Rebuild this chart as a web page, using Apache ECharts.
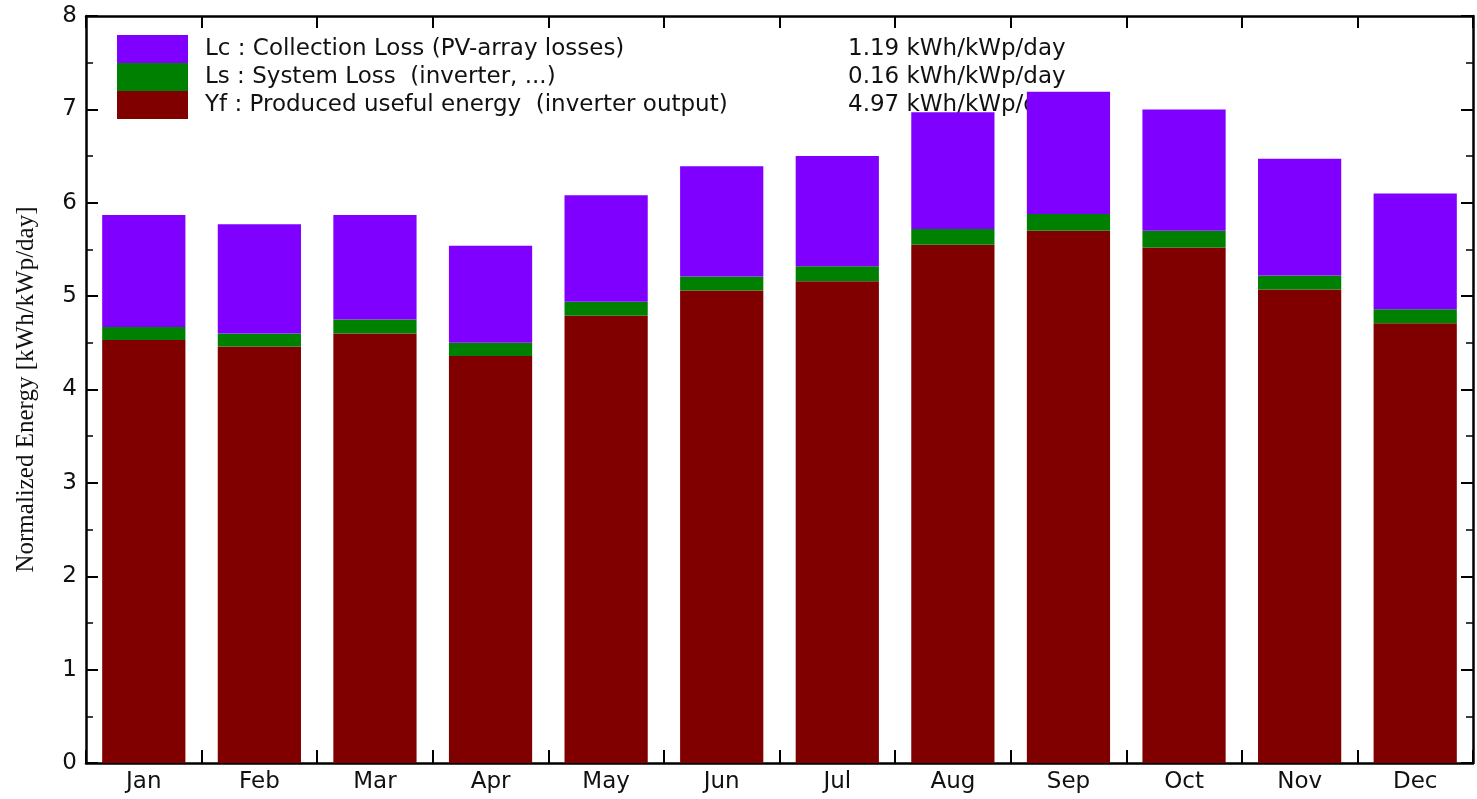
<!DOCTYPE html>
<html>
<head>
<meta charset="utf-8">
<script src="https://cdn.jsdelivr.net/npm/echarts@6/dist/echarts.min.js"></script>
<style>
html,body{margin:0;padding:0;background:#fff;}
#c{width:1477px;height:799px;}
</style>
</head>
<body>
<div id="c"></div>
<script>
const months = ['Jan','Feb','Mar','Apr','May','Jun','Jul','Aug','Sep','Oct','Nov','Dec'];
const yf = [4.53,4.46,4.60,4.36,4.79,5.06,5.16,5.55,5.70,5.52,5.07,4.71];
const ls = [0.14,0.14,0.15,0.14,0.15,0.15,0.16,0.17,0.18,0.18,0.15,0.15];
const lc = [1.20,1.17,1.12,1.04,1.14,1.18,1.18,1.25,1.31,1.30,1.25,1.24];
const seriesNames = ['Lc : Collection Loss (PV-array losses)','Ls : System Loss  (inverter, ...)','Yf : Produced useful energy  (inverter output)'];
const legendValues = ['1.19 kWh/kWp/day','0.16 kWh/kWp/day','4.97 kWh/kWp/day'];
const yTicks = [0,1,2,3,4,5,6,7,8];

const chart = echarts.init(document.getElementById('c'));
const font = '"DejaVu Sans", Verdana, sans-serif';
const axisLine = {show:true, onZero:false, lineStyle:{color:'#000', width:2.5}};
chart.setOption({
  animation:false,
  grid:{left:86, top:16, right:4, bottom:36, containLabel:false},
  legend:{
    data:[seriesNames[0],seriesNames[1],seriesNames[2]],
    orient:'vertical', left:117, top:35, z:1, padding:0,
    icon:'rect', itemWidth:71, itemHeight:28, itemGap:0,
    selectedMode:false,
    formatter:function(name){
      const i = seriesNames.indexOf(name);
      return '{n|' + name + '}{v|' + legendValues[i] + '}';
    },
    textStyle:{
      fontFamily:font, fontSize:23, color:'#111', lineHeight:28,
      rich:{
        n:{fontFamily:font, fontSize:23, color:'#111', width:643, padding:[0,0,0,12], lineHeight:28},
        v:{fontFamily:font, fontSize:23, color:'#111', lineHeight:28}
      }
    }
  },
  xAxis:[{
    type:'category', data:months, position:'bottom',
    axisLine:axisLine,
    axisTick:{show:true, inside:true, length:13, lineStyle:{color:'#000', width:2}},
    axisLabel:{fontFamily:font, fontSize:23, color:'#111', margin:8}
  },{
    type:'category', data:months, position:'top',
    axisLine:axisLine,
    axisTick:{show:true, inside:true, length:12, lineStyle:{color:'#000', width:2}},
    axisLabel:{show:false}
  }],
  yAxis:[{
    type:'value', min:yTicks[0], max:yTicks[yTicks.length-1], interval:1, position:'left',
    name:'Normalized Energy [kWh/kWp/day]', nameLocation:'middle', nameGap:47,
    nameTextStyle:{fontFamily:'"Liberation Serif", "DejaVu Serif", serif', fontSize:25, color:'#111'},
    axisLine:axisLine,
    axisTick:{show:true, inside:true, length:12, lineStyle:{color:'#000', width:2}},
    minorTick:{show:true, splitNumber:2, length:7, lineStyle:{color:'#000', width:1.5}},
    splitLine:{show:false},
    axisLabel:{fontFamily:font, fontSize:23, color:'#111', margin:9}
  },{
    type:'value', min:yTicks[0], max:yTicks[yTicks.length-1], interval:1, position:'right',
    axisLine:axisLine,
    axisTick:{show:true, inside:true, length:12, lineStyle:{color:'#000', width:2}},
    minorTick:{show:true, splitNumber:2, length:7, lineStyle:{color:'#000', width:1.5}},
    splitLine:{show:false},
    axisLabel:{show:false}
  }],
  series:[
    {name:seriesNames[2], type:'bar', stack:'e', data:yf, barCategoryGap:'28%', z:2, itemStyle:{color:'#800000'}},
    {name:seriesNames[1], type:'bar', stack:'e', data:ls, z:2, itemStyle:{color:'#008000'}},
    {name:seriesNames[0], type:'bar', stack:'e', data:lc, z:2, itemStyle:{color:'#8000ff'}}
  ]
});
</script>
</body>
</html>
